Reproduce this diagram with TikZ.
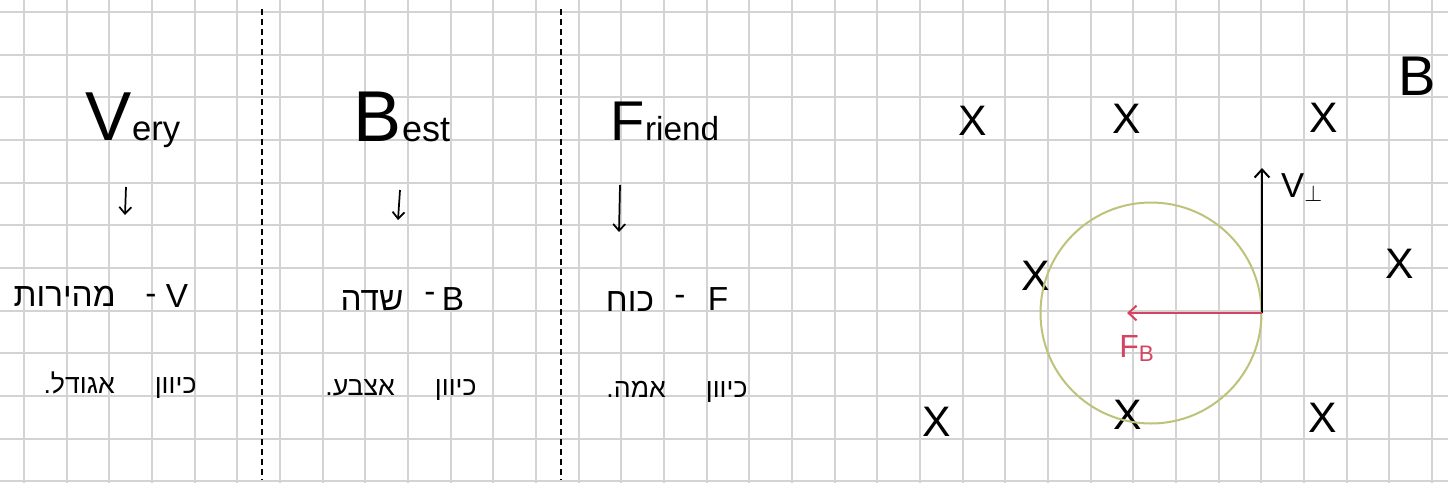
\documentclass[tikz,border=0pt]{standalone}
\usepackage{fontspec}
\setmainfont{Liberation Sans}
\newfontfamily\heb[Script=Hebrew]{Liberation Sans}
\TeXXeTstate=1
\usetikzlibrary{arrows.meta}
\definecolor{gridgray}{RGB}{211,211,211}
\definecolor{circ}{RGB}{190,195,122}
\definecolor{fred}{RGB}{212,68,98}
\tikzset{
 gridline/.style={draw=gridgray, line width=1.5pt},
 divider/.style={draw=black, line width=1.4pt, dash pattern=on 4.5pt off 3pt},
 hand/.style={inner sep=0pt, anchor=base, text=black},
 downarrow/.style={draw=black, line width=1.3pt, -{Straight Barb[length=5pt,width=9pt]}},
 vecarrow/.style={line width=1.5pt, -{Straight Barb[length=6pt,width=11pt]}},
 xmark/.style={inner sep=0pt, font=\fontsize{32}{32}\selectfont},
 rowone/.style={hand, font=\fontsize{25}{25}\selectfont},
 rowtwo/.style={hand, font=\fontsize{20}{20}\selectfont\heb},
}
\newcommand{\hebr}[1]{{\heb\beginR #1\endR}}
\begin{document}
\begin{tikzpicture}[x=0.75pt,y=-0.75pt]
\useasboundingbox (0,0) rectangle (1448,483);
\fill[white] (0,0) rectangle (1448,483);
\foreach \k in {0,...,33} \draw[gridline] ({24+42.67*\k},0) -- ({24+42.67*\k},483);
\foreach \k in {0,...,11} \draw[gridline] (0,{12+42.67*\k}) -- (1448,{12+42.67*\k});

% dividers
\coordinate (d1t) at (262,9); \coordinate (d1b) at (262,480);
\coordinate (d2t) at (561,9); \coordinate (d2b) at (561,480);
\draw[divider] (d1t) -- (d1b);
\draw[divider] (d2t) -- (d2b);

% titles
\node[hand] (very) at (133,140) {{\fontsize{52}{52}\selectfont V}{\fontsize{26}{26}\selectfont ery}};
\node[hand] (best) at (402,141) {{\fontsize{54}{54}\selectfont B}{\fontsize{27}{27}\selectfont est}};
\node[hand] (friend) at (665,140) {{\fontsize{42}{42}\selectfont F}{\fontsize{25}{25}\selectfont riend}};

% down arrows
\coordinate (a1s) at (126,187); \coordinate (a1e) at (125,215);
\coordinate (a2s) at (400,190); \coordinate (a2e) at (398,220);
\coordinate (a3s) at (620,185); \coordinate (a3e) at (619,232);
\draw[downarrow] (a1s) -- (a1e);
\draw[downarrow] (a2s) -- (a2e);
\draw[downarrow] (a3s) -- (a3e);

% row one
\node[rowone, anchor=base east] (vheb) at (116,306) {\hebr{מהירות}};
\node[rowone] (vdash) at (151,304) {-};
\node[rowone] (vsym) at (177,307) {V};
\node[rowone] (bheb) at (372,310) {\hebr{שדה}};
\node[rowone] (bdash) at (430,302) {-};
\node[rowone] (bsym) at (453,310) {B};
\node[rowone] (fheb) at (630,311) {\hebr{כוח}};
\node[rowone] (fdash) at (680,305) {-};
\node[rowone] (fsym) at (718,310) {F};

% row two
\node[rowtwo] (vdir) at (120,393) {\beginR כיוון\hspace{1.5em}אגודל.\endR};
\node[rowtwo] (bdir) at (401,395) {\beginR כיוון\hspace{1.5em}אצבע.\endR};
\node[rowtwo] (fdir) at (677,397) {\beginR כיוון\hspace{1.5em}אמה.\endR};

% right panel
\node[hand, font=\fontsize{42}{42}\selectfont] (Bfield) at (1417,95) {B};
\node[xmark] (x1) at (973,121) {X};
\node[xmark] (x2) at (1127,119) {X};
\node[xmark] (x3) at (1324,118) {X};
\node[xmark] (x4) at (1036,276) {X};
\node[xmark] (x5) at (1400,264) {X};
\node[xmark] (x6) at (937,422) {X};
\node[xmark] (x7) at (1128,415) {X};
\node[xmark] (x8) at (1323,418) {X};

\node[circle, draw=circ, line width=1.5pt, minimum size=165.75pt, inner sep=0pt] (orbit) at (1151,313) {};
\coordinate (P) at (1262,313);
\coordinate (Vtip) at (1262,168);
\coordinate (Ftip) at (1127,313);
\draw[vecarrow, black] (P) -- (Vtip);
\draw[vecarrow, fred] (P) -- (Ftip);
\node[hand, font=\fontsize{26}{26}\selectfont] (vlabel) at (1302,197) {V$_{\perp}$};
\node[hand, text=fred, font=\fontsize{24}{24}\selectfont] (flabel) at (1137,357) {F\textsubscript{B}};
\end{tikzpicture}
\end{document}
